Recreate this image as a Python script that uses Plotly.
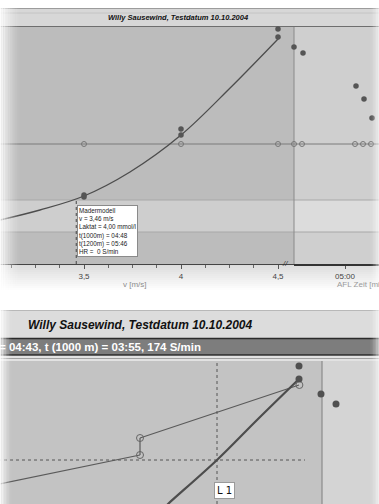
import plotly.graph_objects as go

W, H = 379, 504

# ---------------- data (top panel: lactate curve) ----------------
curve_v = [3.067, 3.273, 3.5, 3.737, 4.0, 4.253, 4.510]
curve_lactate = [2.75, 3.375, 4.25, 5.75, 8.06, 11.0, 14.19]

meas_v = [3.5, 3.5, 4.0, 4.0, 4.5, 4.5]
meas_lactate = [4.31, 4.19, 8.44, 8.06, 14.69, 14.19]

afl_time_s = [249, 258, 311, 319, 327]
afl_lactate = [13.56, 13.19, 11.13, 10.31, 9.13]

hr_v = [3.5, 4.0, 4.5]
hr_time_s = [249, 257, 310, 318, 326]
hr_level = 7.5

top_tick_vals = [300]
top_tick_text = ["05:00"]

tooltip_lines = ["Madermodell", "v = 3,46 m/s", "Laktat = 4,00 mmol/l",
                 "t(1000m) = 04:48", "t(1200m) = 05:46", "HR =  0 S/min"]
threshold_v = 3.46
threshold_lactate = 4.0
band_low, band_high = 2.0, 4.0

# ---------------- data (bottom panel) ----------------
low_line_v = [2.98, 3.7]
low_line_lac = [2.76, 4.25]
step_v = [3.7, 3.7]
step_lac = [4.25, 5.1]
up_line_v = [3.7, 4.495]
up_line_lac = [5.1, 7.75]
open_v = [3.7, 3.7, 4.497]
open_lac = [4.25, 5.1, 7.75]
thick_v = [3.82, 3.84, 4.085, 4.285, 4.495]
thick_lac = [1.6, 1.8, 4.0, 6.0, 8.05]
dots2_v = [4.495, 4.495, 4.605, 4.68]
dots2_lac = [8.7, 8.05, 7.3, 6.8]
l1_v, l1_lac = 4.085, 4.0
region2_v = 4.61

title_text = "Willy Sausewind, Testdatum 10.10.2004"
bar_text = "= 04:43, t (1000 m) = 03:55, 174 S/min"


def px(x):
    return x / W


def py(y):
    return 1 - y / H


FONT = "Liberation Sans, Arial, sans-serif"
fig = go.Figure()

# top panel traces
fig.add_trace(go.Scatter(x=curve_v, y=curve_lactate, mode="lines", line=dict(color="#4d4d4d", width=1.3, shape="spline"),
                         xaxis="x", yaxis="y", hoverinfo="skip"))
fig.add_trace(go.Scatter(x=meas_v, y=meas_lactate, mode="markers", marker=dict(color="#555", size=5.5),
                         xaxis="x", yaxis="y", cliponaxis=False))
fig.add_trace(go.Scatter(x=hr_v, y=[hr_level] * len(hr_v), mode="markers",
                         marker=dict(color="rgba(0,0,0,0)", size=5, line=dict(color="#777", width=1)),
                         xaxis="x", yaxis="y"))
fig.add_trace(go.Scatter(x=afl_time_s, y=afl_lactate, mode="markers", marker=dict(color="#555", size=5.5),
                         xaxis="x3", yaxis="y", cliponaxis=False))
fig.add_trace(go.Scatter(x=hr_time_s, y=[hr_level] * len(hr_time_s), mode="markers",
                         marker=dict(color="rgba(0,0,0,0)", size=5, line=dict(color="#777", width=1)),
                         xaxis="x3", yaxis="y", cliponaxis=False))

# bottom panel traces
thin = dict(color="#5a5a5a", width=1.2)
fig.add_trace(go.Scatter(x=low_line_v, y=low_line_lac, mode="lines", line=thin, xaxis="x2", yaxis="y2"))
fig.add_trace(go.Scatter(x=step_v, y=step_lac, mode="lines", line=thin, xaxis="x2", yaxis="y2"))
fig.add_trace(go.Scatter(x=up_line_v, y=up_line_lac, mode="lines", line=thin, xaxis="x2", yaxis="y2"))
fig.add_trace(go.Scatter(x=thick_v, y=thick_lac, mode="lines", line=dict(color="#4d4d4d", width=2.2, shape="spline"),
                         xaxis="x2", yaxis="y2"))
fig.add_trace(go.Scatter(x=open_v, y=open_lac, mode="markers",
                         marker=dict(color="rgba(0,0,0,0)", size=7, line=dict(color="#666", width=1)),
                         xaxis="x2", yaxis="y2"))
fig.add_trace(go.Scatter(x=dots2_v, y=dots2_lac, mode="markers", marker=dict(color="#505050", size=7),
                         xaxis="x2", yaxis="y2", cliponaxis=False))

shapes = []


def rect(x0, y0, x1, y1, color, opacity=1, layer="below"):
    shapes.append(dict(type="rect", xref="paper", yref="paper", x0=px(x0), x1=px(x1), y0=py(y0), y1=py(y1),
                       fillcolor=color, opacity=opacity, line=dict(width=0), layer=layer))


def hline(x0, x1, y, color, width=1, layer="below"):
    shapes.append(dict(type="line", xref="paper", yref="paper", x0=px(x0), x1=px(x1), y0=py(y), y1=py(y),
                       line=dict(color=color, width=width), layer=layer))


# ---- top panel frame
rect(0, 8, W, 27, "#d7d7d7")
hline(0, W, 8.5, "#9c9c9c")
hline(0, W, 13, "#c4c4c4")
hline(0, W, 26.5, "#6e6e6e", 1.2)
rect(0, 27, 294, 264, "#bcbcbc")
rect(294, 27, W, 264, "#cfcfcf")
shapes.append(dict(type="rect", xref="paper", yref="y", x0=0, x1=1, y0=band_low, y1=band_high,
                   fillcolor="white", opacity=0.28, line=dict(width=0), layer="below"))
for lvl, col in [(band_low, "#a8a8a8"), (band_high, "#a8a8a8"), (hr_level, "#7a7a7a")]:
    shapes.append(dict(type="line", xref="paper", yref="y", x0=0, x1=1, y0=lvl, y1=lvl,
                       line=dict(color=col, width=1), layer="below"))
shapes.append(dict(type="line", xref="paper", yref="paper", x0=px(294), x1=px(294), y0=py(264), y1=py(27),
                   line=dict(color="#8a8a8a", width=1), layer="below"))
shapes.append(dict(type="line", xref="x", yref="y", x0=threshold_v, x1=threshold_v, y0=0, y1=threshold_lactate,
                   line=dict(color="#444", width=1, dash="dot"), layer="above"))
# below-axis fade of top panel
for i in range(14):
    rect(0, 264 + i * 2, W, 266 + i * 2, "#d8d8d8", opacity=max(0, 0.9 - i * 0.07))

# ---- bottom panel frame
hline(0, W, 310.5, "#b8b8b8")
rect(0, 311, W, 338, "#dcdcdc")
rect(0, 338, W, 355, "#7d7d7d")
hline(0, W, 338.5, "#2a2a2a", 1.3)
hline(0, W, 355, "#2a2a2a", 1.3)
rect(0, 356, W, 361, "#e2e2e2")
hline(0, W, 358.5, "#a0a0a0")
rect(0, 361, W, H, "#c3c3c3")
shapes.append(dict(type="rect", xref="x2", yref="paper", x0=region2_v, x1=5.2, y0=0, y1=py(361),
                   fillcolor="#d4d4d4", line=dict(width=0), layer="below"))
shapes.append(dict(type="line", xref="x2", yref="paper", x0=region2_v, x1=region2_v, y0=0, y1=py(361),
                   line=dict(color="#8a8a8a", width=1.2), layer="below"))
shapes.append(dict(type="line", xref="x2", yref="paper", x0=l1_v, x1=l1_v, y0=0, y1=py(361),
                   line=dict(color="#555", width=1, dash="dot"), layer="below"))
shapes.append(dict(type="line", xref="x2", yref="y2", x0=2.9, x1=4.525, y0=l1_lac, y1=l1_lac,
                   line=dict(color="#555", width=1, dash="dot"), layer="below"))

# ---- soft white vignette at edges
for i in range(12):
    op = 0.92 * (1 - i / 12) ** 1.6
    rect(i * 1.7, 0, (i + 1) * 1.7, 300, "white", opacity=op, layer="above")
for i in range(8):
    op = 0.9 * (1 - i / 8) ** 1.6
    rect(i * 1.5, 305, (i + 1) * 1.5, H, "white", opacity=op, layer="above")
for i in range(6):
    op = 0.6 * (1 - i / 6) ** 1.6
    rect(W - (i + 1) * 1.5, 0, W - i * 1.5, H, "white", opacity=op, layer="above")

annotations = [
    dict(xref="paper", yref="paper", x=px(178), y=py(18), yanchor="middle", text="<b><i>" + title_text + "</i></b>",
         showarrow=False, font=dict(family=FONT, size=7.5, color="#111")),
    dict(xref="paper", yref="paper", x=px(26), y=py(325), xanchor="left", yanchor="middle",
         text="<b><i>" + title_text + "</i></b>",
         showarrow=False, font=dict(family=FONT, size=12, color="#111")),
    dict(xref="paper", yref="paper", x=px(-3), y=py(347), xanchor="left", yanchor="middle",
         text="<b>" + bar_text + "</b>", showarrow=False, font=dict(family=FONT, size=11.5, color="white")),
    dict(xref="paper", yref="paper", x=px(77), y=py(205), xanchor="left", yanchor="top", align="left",
         text="<br>".join(tooltip_lines), showarrow=False, bgcolor="white", bordercolor="#8a8a8a", borderwidth=1,
         borderpad=1, font=dict(family=FONT, size=6.3, color="#222")),
    dict(xref="paper", yref="paper", x=px(135), y=py(284), text="v [m/s]", showarrow=False,
         font=dict(family=FONT, size=8, color="#8c8c8c")),
    dict(xref="paper", yref="paper", x=px(335), y=py(284.5), xanchor="left", text="AFL Zeit [min]", showarrow=False,
         font=dict(family=FONT, size=8, color="#9a9a9a")),
    dict(xref="paper", yref="paper", x=px(290), y=py(263), text="<i>//</i>", showarrow=False,
         font=dict(family=FONT, size=8, color="#333")),
    dict(xref="x2", yref="y2", x=l1_v + 0.19 / 5, y=2.5, text="L 1", showarrow=False, bgcolor="white",
         bordercolor="#9a9a9a", borderwidth=1, borderpad=2, font=dict(family="DejaVu Sans", size=10, color="#111")),
]

fig.update_layout(
    width=W, height=H, margin=dict(l=0, r=0, t=0, b=0), paper_bgcolor="white", plot_bgcolor="rgba(0,0,0,0)",
    showlegend=False, separators=",.",
    xaxis=dict(domain=[0, px(294)], range=[3.067, 4.5825], anchor="y", showgrid=False, zeroline=False,
               showline=True, linecolor="#444", linewidth=1, ticks="outside", ticklen=4, tickcolor="#555",
               dtick=0.5, tick0=3.5, tickfont=dict(family=FONT, size=8, color="#444"),
               minor=dict(dtick=0.125, ticklen=2.5, tickcolor="#666", ticks="outside", showgrid=False)),
    xaxis3=dict(domain=[px(294), 1], range=[249, 334], anchor="y", showgrid=False, zeroline=False,
                showline=True, linecolor="#333", linewidth=2, ticks="outside", ticklen=3, tickcolor="#555",
                tickmode="array", tickvals=top_tick_vals, ticktext=top_tick_text,
                tickfont=dict(family=FONT, size=8, color="#444")),
    yaxis=dict(domain=[py(264), py(27)], range=[0, 14.8125], visible=False),
    xaxis2=dict(domain=[0, 1], range=[3.0, 4.895], anchor="y2", visible=False),
    yaxis2=dict(domain=[0, py(361)], range=[1.8, 8.95], visible=False),
    shapes=shapes, annotations=annotations,
)

fig.write_html("out.html", config={"displayModeBar": False},
               post_script="document.body.style.margin='0px';document.body.style.overflow='hidden';")
